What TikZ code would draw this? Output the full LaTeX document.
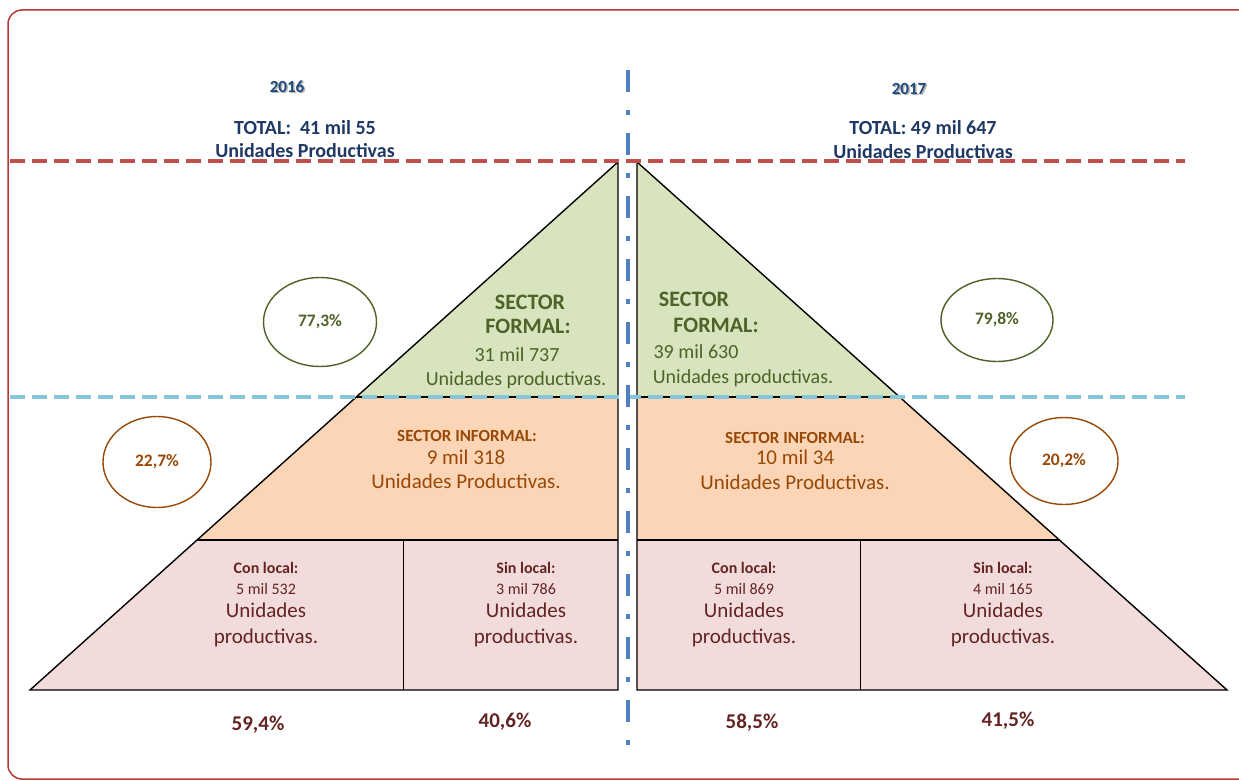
\documentclass[tikz,border=0pt]{standalone}
\usepackage{fontspec}
\setmainfont{Carlito}
\usetikzlibrary{shapes.geometric}
\definecolor{bordercol}{HTML}{B83A36}
\definecolor{reddash}{HTML}{C0504D}
\definecolor{bluedash}{HTML}{86C6DA}
\definecolor{centercol}{HTML}{4F81BD}
\definecolor{greenfill}{HTML}{D7E4BD}
\definecolor{orangefill}{HTML}{FBD5B5}
\definecolor{pinkfill}{HTML}{F2DCDB}
\definecolor{greentext}{HTML}{4F6228}
\definecolor{browntext}{HTML}{984807}
\definecolor{maroontext}{HTML}{632423}
\definecolor{navytext}{HTML}{1F3864}
\definecolor{yeartext}{HTML}{1F497D}
\newcommand\myfs[1]{\fontsize{#1}{#1}\selectfont}
\begin{document}
\begin{tikzpicture}[x=1pt,y=-1pt,
  txt/.style={inner sep=0pt, text height=0.63em, text depth=0pt, anchor=center, yshift=-4pt},
  outline/.style={draw=black, line width=1.4pt, line join=miter},
  thinline/.style={draw=black, line width=1pt},
  reddashed/.style={draw=reddash, line width=3.5pt, dash pattern=on 15pt off 7pt},
  bluedashed/.style={draw=bluedash, line width=3.5pt, dash pattern=on 15pt off 7pt},
  centerdash/.style={draw=centercol, line width=4pt, dash pattern=on 22pt off 18pt on 5pt off 18pt},
  greenell/.style={ellipse, draw=greentext, line width=1.4pt, inner sep=0pt, font=\myfs{17.5}\bfseries, text=greentext},
  brownell/.style={ellipse, draw=browntext, line width=1.4pt, inner sep=0pt, font=\myfs{17.5}\bfseries, text=browntext},
  yearlbl/.style={txt, font=\myfs{17}\bfseries, text=yeartext},
  totallbl/.style={txt, font=\myfs{20}\bfseries, text=navytext},
  formalhead/.style={txt, font=\myfs{22}\bfseries, text=greentext},
  formalbody/.style={txt, font=\myfs{20}, text=greentext},
  informalhead/.style={txt, font=\myfs{17}\bfseries, text=browntext},
  informalbody/.style={txt, font=\myfs{21}, text=browntext},
  cellhead/.style={txt, font=\myfs{16}\bfseries, text=maroontext},
  cellnum/.style={txt, font=\myfs{16}, text=maroontext},
  cellbody/.style={txt, font=\myfs{21}, text=maroontext},
  pctlbl/.style={txt, font=\myfs{21}\bfseries, text=maroontext}
]
\useasboundingbox (0,0) rectangle (1239,781);
\fill[white] (0,0) rectangle (1239,781);
\begin{scope}
\clip (0,0) rectangle (1239,781);
\draw[bordercol, line width=1.5pt, rounded corners=14pt] (8,10) rectangle (1280,779);
\end{scope}

% left pyramid coordinates
\coordinate (LA) at (618,162);
\coordinate (LF) at (357,397);
\coordinate (LFr) at (618,397);
\coordinate (LI) at (197,540);
\coordinate (LIr) at (618,540);
\coordinate (LB) at (30,690);
\coordinate (LBr) at (618,690);
\coordinate (LD1) at (403,540);
\coordinate (LD2) at (403,690);
% right pyramid coordinates
\coordinate (RA) at (637,162);
\coordinate (RF) at (899,397);
\coordinate (RFl) at (637,397);
\coordinate (RI) at (1059,540);
\coordinate (RIl) at (637,540);
\coordinate (RB) at (1227,690);
\coordinate (RBl) at (637,690);
\coordinate (RD1) at (860,540);
\coordinate (RD2) at (860,690);

% fills
\fill[greenfill] (LA) -- (LF) -- (LFr) -- cycle;
\fill[orangefill] (LF) -- (LI) -- (LIr) -- (LFr) -- cycle;
\fill[pinkfill] (LI) -- (LB) -- (LBr) -- (LIr) -- cycle;
\fill[greenfill] (RA) -- (RF) -- (RFl) -- cycle;
\fill[orangefill] (RF) -- (RI) -- (RIl) -- (RFl) -- cycle;
\fill[pinkfill] (RI) -- (RB) -- (RBl) -- (RIl) -- cycle;

% outlines
\draw[outline] (LA) -- (LB) -- (LBr) -- cycle;
\draw[outline] (LI) -- (LIr);
\draw[outline] (LF) -- (LFr);
\draw[thinline] (LD1) -- (LD2);
\draw[outline] (RA) -- (RB) -- (RBl) -- cycle;
\draw[outline] (RI) -- (RIl);
\draw[outline] (RF) -- (RFl);
\draw[thinline] (RD1) -- (RD2);

% guide lines
\coordinate (RDs) at (10,161);
\coordinate (RDe) at (1185,161);
\coordinate (BDs) at (10,397);
\coordinate (BDe) at (1185,397);
\coordinate (CLs) at (628,70);
\coordinate (CLe) at (628,745);
\draw[reddashed] (RDs) -- (RDe);
\draw[bluedashed] (BDs) -- (BDe);
\draw[centerdash] (CLs) -- (CLe);

% headers
\node[yearlbl, text=black!30] (y16s) at (288.5,86.5) {2016};
\node[yearlbl] (y16) at (287,85) {2016};
\node[yearlbl, text=black!30] (y17s) at (910.5,88.5) {2017};
\node[yearlbl] (y17) at (909,87) {2017};
\node[totallbl] (t16a) at (305,127) {TOTAL:\ \ 41 mil 55};
\node[totallbl] (t16b) at (305,150) {Unidades Productivas};
\node[totallbl] (t17a) at (923,127) {TOTAL: 49 mil 647};
\node[totallbl] (t17b) at (923,151) {Unidades Productivas};

% formal sector
\node[formalhead] (lf1) at (530,302) {SECTOR};
\node[formalhead] (lf2) at (528,326) {FORMAL:};
\node[formalbody] (lf3) at (517,354) {31 mil 737};
\node[formalbody] (lf4) at (516,378) {Unidades productivas.};
\node[formalhead] (rf1) at (694,299) {SECTOR};
\node[formalhead] (rf2) at (716,325) {FORMAL:};
\node[formalbody] (rf3) at (696,351) {39 mil 630};
\node[formalbody] (rf4) at (743,376) {Unidades productivas.};

% informal sector
\node[informalhead] (li1) at (467,434) {SECTOR INFORMAL:};
\node[informalbody] (li2) at (466,457) {9 mil 318};
\node[informalbody] (li3) at (466,481) {Unidades Productivas.};
\node[informalhead] (ri1) at (795,436) {SECTOR INFORMAL:};
\node[informalbody] (ri2) at (795,457) {10 mil 34};
\node[informalbody] (ri3) at (795,482) {Unidades Productivas.};

% cells
\node[cellhead] (c1a) at (266,566) {Con local:};
\node[cellnum] (c1b) at (266,587) {5 mil 532};
\node[cellbody] (c1c) at (266,610) {Unidades};
\node[cellbody] (c1d) at (266,636) {productivas.};
\node[cellhead] (c2a) at (526,566) {Sin local:};
\node[cellnum] (c2b) at (526,587) {3 mil 786};
\node[cellbody] (c2c) at (526,610) {Unidades};
\node[cellbody] (c2d) at (526,636) {productivas.};
\node[cellhead] (c3a) at (744,566) {Con local:};
\node[cellnum] (c3b) at (744,587) {5 mil 869};
\node[cellbody] (c3c) at (744,610) {Unidades};
\node[cellbody] (c3d) at (744,636) {productivas.};
\node[cellhead] (c4a) at (1003,566) {Sin local:};
\node[cellnum] (c4b) at (1003,587) {4 mil 165};
\node[cellbody] (c4c) at (1003,610) {Unidades};
\node[cellbody] (c4d) at (1003,636) {productivas.};

% bottom percentages
\node[pctlbl] (p1) at (258,723) {59,4\%};
\node[pctlbl] (p2) at (505,720) {40,6\%};
\node[pctlbl] (p3) at (752,721) {58,5\%};
\node[pctlbl] (p4) at (1008,719) {41,5\%};

% ellipses
\node[greenell, minimum width=113pt, minimum height=89pt] (e1) at (320,322) {77,3\%};
\node[greenell, minimum width=112pt, minimum height=83pt] (e2) at (997,320) {79,8\%};
\node[brownell, minimum width=108pt, minimum height=91pt] (e3) at (157,462) {22,7\%};
\node[brownell, minimum width=108pt, minimum height=87pt] (e4) at (1064,461) {20,2\%};
\end{tikzpicture}
\end{document}
